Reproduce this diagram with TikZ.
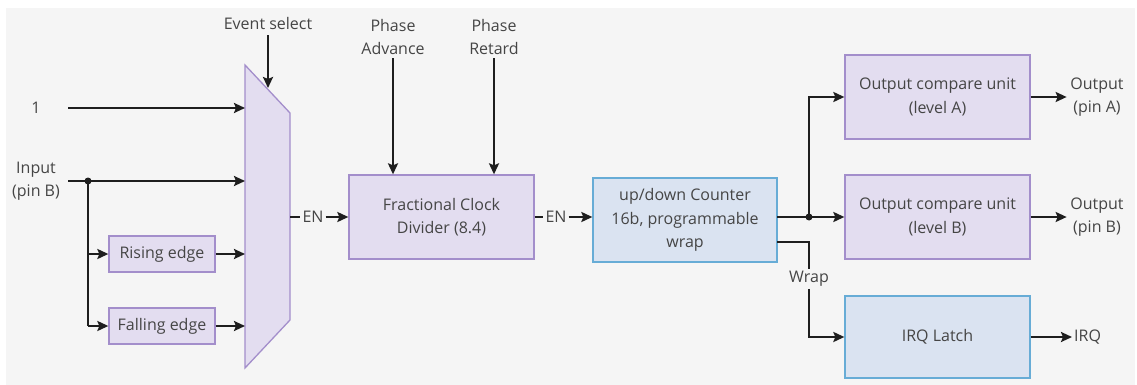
\documentclass[tikz,border=0pt]{standalone}
\usepackage{fontspec}
\setmainfont{Open Sans}
\usetikzlibrary{arrows.meta}
\definecolor{bggray}{HTML}{F5F5F5}
\definecolor{txt}{HTML}{454545}
\definecolor{wire}{HTML}{1E1E1E}
\definecolor{pfill}{HTML}{E3DDF0}
\definecolor{pdraw}{HTML}{A38ECB}
\definecolor{bfill}{HTML}{DAE3F1}
\definecolor{bdraw}{HTML}{67ACD6}
\tikzset{
  lbl/.style={text=txt, font=\fontsize{16}{23.5}\selectfont, align=center, inner sep=2pt},
  blk/.style={lbl, line width=1.3pt, inner sep=0pt},
  pblk/.style={blk, draw=pdraw, fill=pfill},
  bblk/.style={blk, draw=bdraw, fill=bfill},
  wireline/.style={draw=wire, line width=2.8pt},
  arr/.style={wireline, -{Stealth[length=11pt,width=10pt,inset=2pt]}},
  jdot/.style={circle, fill=wire, inner sep=0pt, minimum size=7pt}
}
\begin{document}
\begin{tikzpicture}[x=1pt,y=-1pt]
\useasboundingbox (0,0) rectangle (1137,385);
\fill[bggray] (6,8) rectangle (1135,385);

% event multiplexer
\draw[pdraw, fill=pfill, line width=1.3pt] (245,65) -- (290,113) -- (290,320) -- (245,368) -- cycle;
\coordinate (mIn1) at (245,108);
\coordinate (mIn2) at (245,181);
\coordinate (mIn3) at (245,254);
\coordinate (mIn4) at (245,326);
\coordinate (mSel) at (268,88);
\coordinate (mOut) at (290,217);

% labels and sources
\node[lbl] (sel) at (268,24) {Event select};
\node[lbl] (one) at (36,108) {1};
\node[lbl] (inB) at (36,181) {Input\\(pin B)};
\node[lbl] (adv) at (393,37) {Phase\\Advance};
\node[lbl] (ret) at (494,37) {Phase\\Retard};
\coordinate (oneS) at (68,108);
\coordinate (inS) at (68,181);
\node[jdot] (split) at (88,181) {};

% blocks
\node[pblk, minimum width=106pt, minimum height=36pt] (rise) at (162,254) {Rising edge};
\node[pblk, minimum width=106pt, minimum height=36pt] (fall) at (162,326) {Falling edge};
\node[pblk, minimum width=185pt, minimum height=84pt] (fcd) at (441.5,217) {Fractional Clock\\Divider (8.4)};
\node[bblk, minimum width=184pt, minimum height=84pt] (cnt) at (685,220) {up/down Counter\\16b, programmable\\wrap};
\node[pblk, minimum width=185pt, minimum height=84pt] (oca) at (937.5,97) {Output compare unit\\(level A)};
\node[pblk, minimum width=185pt, minimum height=84pt] (ocb) at (937.5,217) {Output compare unit\\(level B)};
\node[bblk, minimum width=185pt, minimum height=82pt] (irq) at (937.5,337) {IRQ Latch};

\node[lbl] (en1) at (313,217) {EN};
\node[lbl] (en2) at (556,217) {EN};
\node[lbl] (wrap) at (809,279) {Wrap};
\node[lbl] (outA) at (1097,97) {Output\\(pin A)};
\node[lbl] (outB) at (1097,217) {Output\\(pin B)};
\node[lbl, anchor=west] (irqOut) at (1072,337) {IRQ};

% input side wiring
\draw[arr] (sel.south) ++(0,3) -- (mSel);
\draw[arr] (oneS) -- (mIn1);
\draw[arr] (inS) -- (mIn2);
\draw[wireline] (split.center) -- (split.center |- fall.west);
\draw[arr] (split.center |- rise.west) -- (rise.west);
\draw[arr] (split.center |- fall.west) -- (fall.west);
\draw[arr] (rise.east) -- (mIn3);
\draw[arr] (fall.east) -- (mIn4);

% enable chain
\draw[wireline] (mOut) -- (en1.west);
\draw[arr] (en1.east) -- (fcd.west);
\draw[arr] (adv.south) ++(0,1) -- (adv.south |- fcd.north);
\draw[arr] (ret.south) ++(0,1) -- (ret.south |- fcd.north);
\draw[wireline] (fcd.east) -- (en2.west);
\draw[arr] (en2.east) -- (cnt.west |- en2.east);

% counter outputs
\coordinate (cOut) at (777,217);
\coordinate (cWrap) at (777,242);
\node[jdot] (tap) at (809,217) {};
\draw[wireline] (cOut) -- (tap.center);
\draw[arr] (tap.center) -- (ocb.west);
\draw[arr] (tap.center) |- (oca.west);
\draw[wireline] (cWrap) -| (wrap.north);
\draw[arr] (wrap.south) |- (irq.west);

% outputs
\draw[arr] (oca.east) -- ++(36,0) coordinate (oaEnd);
\draw[arr] (ocb.east) -- ++(36,0) coordinate (obEnd);
\draw[arr] (irq.east) -- (irqOut.west);
\end{tikzpicture}
\end{document}
